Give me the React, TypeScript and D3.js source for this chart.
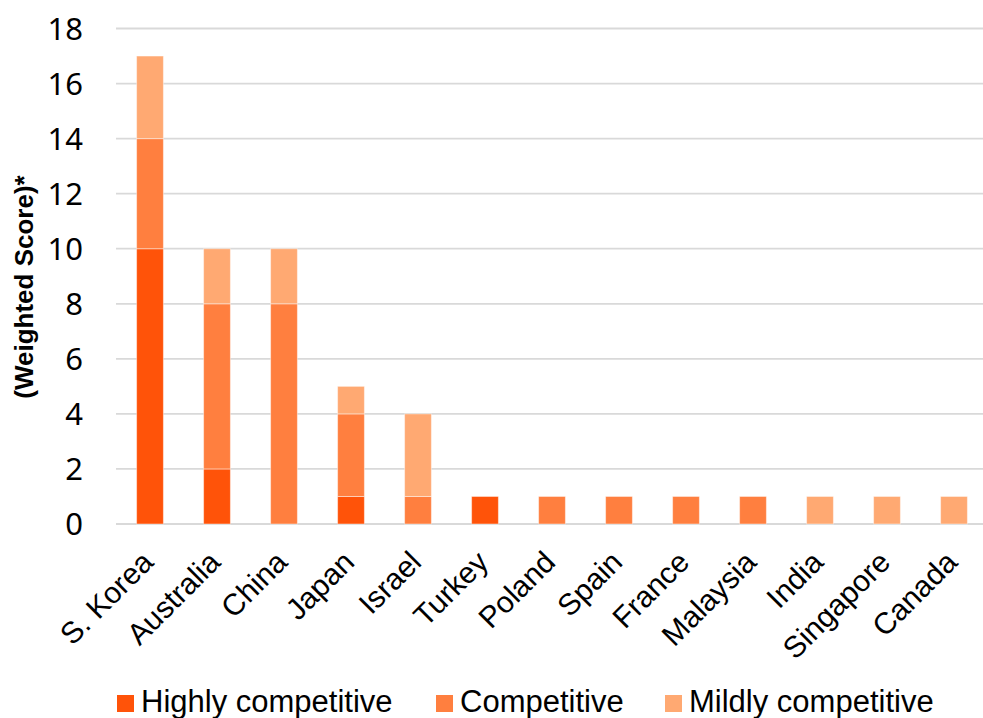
import React from "react";
import * as d3 from "d3";

const categories = ["S. Korea", "Australia", "China", "Japan", "Israel", "Turkey", "Poland", "Spain", "France", "Malaysia", "India", "Singapore", "Canada"];
const highly = [10, 2, 0, 1, 0, 1, 0, 0, 0, 0, 0, 0, 0];
const competitive = [4, 6, 8, 3, 1, 0, 1, 1, 1, 1, 0, 0, 0];
const mildly = [3, 2, 2, 1, 3, 0, 0, 0, 0, 0, 1, 1, 1];
const seriesNames = ["Highly competitive", "Competitive", "Mildly competitive"];
const colors = ["#FF5309", "#FF7F3F", "#FFA972"];
const yTicks = [0, 2, 4, 6, 8, 10, 12, 14, 16, 18];

const W = 983;
const H = 718;

export default function App() {
  const x = d3.scaleBand<string>().domain(categories).range([116.5, 987.5]).paddingInner(0.6).paddingOuter(0.3);
  const y = d3.scaleLinear().domain([0, 18]).range([524, 28.5]);

  const rows = categories.map((c, i) => ({ cat: c, h: highly[i], c: competitive[i], m: mildly[i] }));
  const stack = d3.stack<any>().keys(["h", "c", "m"]);
  const series = stack(rows);

  const legendItems = [
    { sx: 117, tx: 141 },
    { sx: 436, tx: 460 },
    { sx: 665, tx: 689 },
  ];

  return (
    <svg width={W} height={H} style={{ position: "absolute", left: 0, top: 0, background: "#fff" }}>
      {yTicks.map((t) => (
        <line key={"g" + t} x1={116} x2={W} y1={y(t)} y2={y(t)} stroke="#d9d9d9" strokeWidth={1.8} />
      ))}
      {yTicks.map((t) => (
        <text key={"t" + t} x={83} y={y(t)} dy="0.36em" textAnchor="end" fontFamily="'Noto Sans', sans-serif" fontSize={31} fill="#000">
          {t}
        </text>
      ))}
      {series.map((s, si) =>
        s.map((d, i) => {
          const v = d[1] - d[0];
          if (v <= 0) return null;
          return (
            <rect
              key={si + "-" + i}
              x={x(categories[i])!}
              width={x.bandwidth()}
              y={y(d[1])}
              height={y(d[0]) - y(d[1])}
              fill={colors[si]}
              stroke="#ffffff"
              strokeOpacity={0.45}
              strokeWidth={1}
            />
          );
        })
      )}
      {categories.map((c) => {
        const px = x(c)! + x.bandwidth() / 2 + 5;
        const py = 564;
        return (
          <text
            key={"x" + c}
            transform={`translate(${px},${py}) rotate(-45)`}
            textAnchor="end"
            fontFamily="'Liberation Sans', Arial, sans-serif"
            fontSize={30}
            fill="#000"
          >
            {c}
          </text>
        );
      })}
      <text
        transform={`translate(33,287) rotate(-90)`}
        textAnchor="middle"
        fontFamily="'Liberation Sans', Arial, sans-serif"
        fontWeight="bold"
        fontSize={26}
        fill="#000"
      >
        (Weighted Score)*
      </text>
      {seriesNames.map((n, i) => (
        <g key={"l" + n}>
          <rect x={legendItems[i].sx} y={695} width={17} height={17} fill={colors[i]} />
          <text x={legendItems[i].tx} y={712} fontFamily="'Liberation Sans', Arial, sans-serif" fontSize={31} fill="#000">
            {n}
          </text>
        </g>
      ))}
    </svg>
  );
}
